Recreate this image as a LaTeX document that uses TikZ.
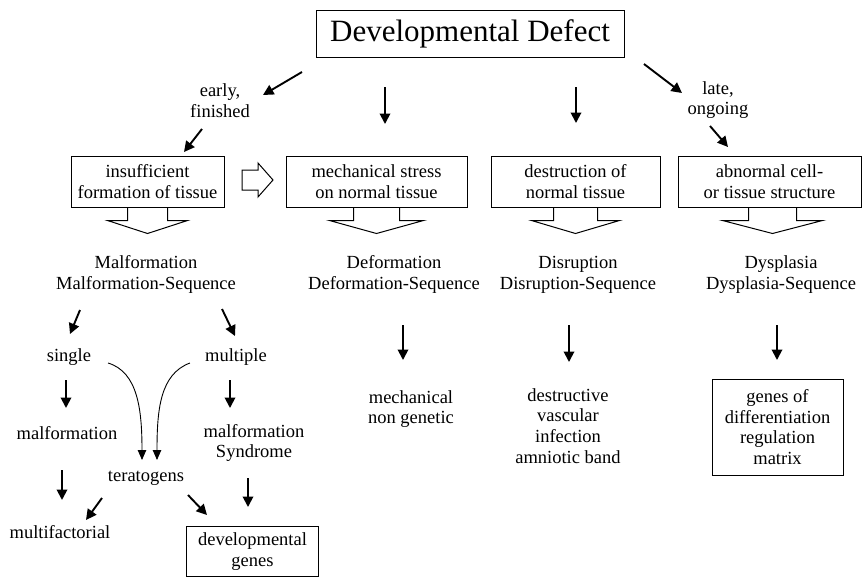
\documentclass[tikz,border=0pt]{standalone}
\usepackage{fontspec}
\setmainfont{Liberation Serif}
\usetikzlibrary{arrows.meta,calc}
\begin{document}
\begin{tikzpicture}[x=1pt,y=-1pt,
  lbl/.style={font=\fontsize{18.5}{20.7}\selectfont, align=center, inner sep=0pt},
  boxn/.style={lbl, draw, line width=1pt},
  arr/.style={line width=1.9pt, -{Triangle[length=10.5pt,width=10.5pt]}},
  carr/.style={line width=0.9pt, -{Triangle[length=10pt,width=8.5pt]}},
  hollow/.style={line width=1pt, line join=miter}]
\useasboundingbox (0,0) rectangle (862,576);

% title
\node[draw, line width=1pt, minimum width=308pt, minimum height=47pt, inner sep=0pt,
  font=\fontsize{31}{34}\selectfont] (title) at (470,33.5) {Developmental Defect};

% branch labels
\node[lbl] (early) at (220,101) {early,\\finished};
\node[lbl] (late) at (718,100) {late,\\ongoing};

% boxes
\node[boxn, minimum width=153pt, minimum height=51pt] (b1) at (147.5,181.5) {insufficient\\formation of tissue};
\node[boxn, minimum width=181pt, minimum height=51pt] (b2) at (376.5,181.5) {mechanical stress\\on normal tissue};
\node[boxn, minimum width=169pt, minimum height=51pt] (b3) at (575.5,181.5) {destruction of\\normal tissue};
\node[boxn, minimum width=183pt, minimum height=51pt] (b4) at (769.5,181.5) {abnormal cell-\\or tissue structure};

% top arrows
\coordinate (t1s) at (302,72); \coordinate (t1e) at (263,95);
\coordinate (t2s) at (385,87); \coordinate (t2e) at (385,124);
\coordinate (t3s) at (576,87); \coordinate (t3e) at (576,123);
\coordinate (t4s) at (644,64); \coordinate (t4e) at (682,93);
\coordinate (e1s) at (202,129); \coordinate (e1e) at (184,152);
\coordinate (l1s) at (710,126); \coordinate (l1e) at (728,147);
\draw[arr] (t1s) -- (t1e);
\draw[arr] (t2s) -- (t2e);
\draw[arr] (t3s) -- (t3e);
\draw[arr] (t4s) -- (t4e);
\draw[arr] (e1s) -- (e1e);
\draw[arr] (l1s) -- (l1e);

% hollow right arrow between b1 and b2
\draw[hollow] (242,170) -- (258,170) -- (258,163) -- (273,180) -- (258,197) -- (258,190) -- (242,190) -- cycle;

% big hollow down arrows
\draw[hollow] ([xshift=-20pt]b1.south) -- ++(0,13) -- ++(-20,0) -- ($(b1.south)+(0,26)$) -- ($(b1.south)+(40,13)$) -- ++(-20,0) -- ([xshift=20pt]b1.south);
\draw[hollow] ([xshift=-23pt]b2.south) -- ++(0,13) -- ++(-24,0) -- ($(b2.south)+(0,26)$) -- ($(b2.south)+(47,13)$) -- ++(-24,0) -- ([xshift=23pt]b2.south);
\draw[hollow] ([xshift=-22pt]b3.south) -- ++(0,13) -- ++(-22,0) -- ($(b3.south)+(0,26)$) -- ($(b3.south)+(44,13)$) -- ++(-22,0) -- ([xshift=22pt]b3.south);
\draw[hollow] ([xshift=-21pt]b4.south) -- ++(0,13) -- ++(-26,0) -- ($(b4.south)+(3,26)$) -- ($(b4.south)+(53,13)$) -- ++(-26,0) -- ([xshift=27pt]b4.south);

% category labels
\node[lbl] (mal) at (146,274.5) {Malformation\\Malformation-Sequence};
\node[lbl] (def) at (394,274.5) {Deformation\\Deformation-Sequence};
\node[lbl] (dis) at (578,274.5) {Disruption\\Disruption-Sequence};
\node[lbl] (dys) at (781,274.5) {Dysplasia\\Dysplasia-Sequence};

% column 1
\node[lbl] (single) at (69,357) {single};
\node[lbl] (multiple) at (236,357) {multiple};
\node[lbl] (malf) at (67,433) {malformation};
\node[lbl] (malsyn) at (254,443) {malformation\\Syndrome};
\node[lbl] (terat) at (146,478) {teratogens};
\node[lbl] (multif) at (60,532) {multifactorial};
\node[boxn, minimum width=132pt, minimum height=50pt, anchor=north west] (devg) at (186,526) {developmental\\genes};

\coordinate (a1s) at (80,310); \coordinate (a1e) at (70,334);
\coordinate (a2s) at (222,309); \coordinate (a2e) at (235,336);
\coordinate (a3s) at (66,380); \coordinate (a3e) at (66,408);
\coordinate (a4s) at (230,380); \coordinate (a4e) at (230,408);
\coordinate (a5s) at (62,470); \coordinate (a5e) at (62,500);
\coordinate (a6s) at (102,498); \coordinate (a6e) at (86,520);
\coordinate (a7s) at (188,495); \coordinate (a7e) at (207,515);
\coordinate (a8s) at (248,478); \coordinate (a8e) at (248,507);
\coordinate (c1s) at (108,363); \coordinate (c1e) at (142,460);
\coordinate (c2s) at (190,363); \coordinate (c2e) at (157,460);
\draw[arr] (a1s) -- (a1e);
\draw[arr] (a2s) -- (a2e);
\draw[arr] (a3s) -- (a3e);
\draw[arr] (a4s) -- (a4e);
\draw[arr] (a5s) -- (a5e);
\draw[arr] (a6s) -- (a6e);
\draw[arr] (a7s) -- (a7e);
\draw[arr] (a8s) -- (a8e);
\draw[carr] (c1s) .. controls (138,372) and (142,410) .. (c1e);
\draw[carr] (c2s) .. controls (160,374) and (157,410) .. (c2e);

% column 2
\coordinate (d1s) at (403,325); \coordinate (d1e) at (403,360);
\draw[arr] (d1s) -- (d1e);
\node[lbl] (mech) at (411,409) {mechanical\\non genetic};

% column 3
\coordinate (d2s) at (569,325); \coordinate (d2e) at (569,362);
\draw[arr] (d2s) -- (d2e);
\node[lbl] (destr) at (568,426) {destructive\\vascular\\infection\\amniotic band};

% column 4
\coordinate (d3s) at (777,325); \coordinate (d3e) at (777,360);
\draw[arr] (d3s) -- (d3e);
\node[boxn, minimum width=131pt, minimum height=96pt] (genes) at (777.5,427) {genes of\\differentiation\\regulation\\matrix};
\end{tikzpicture}
\end{document}
